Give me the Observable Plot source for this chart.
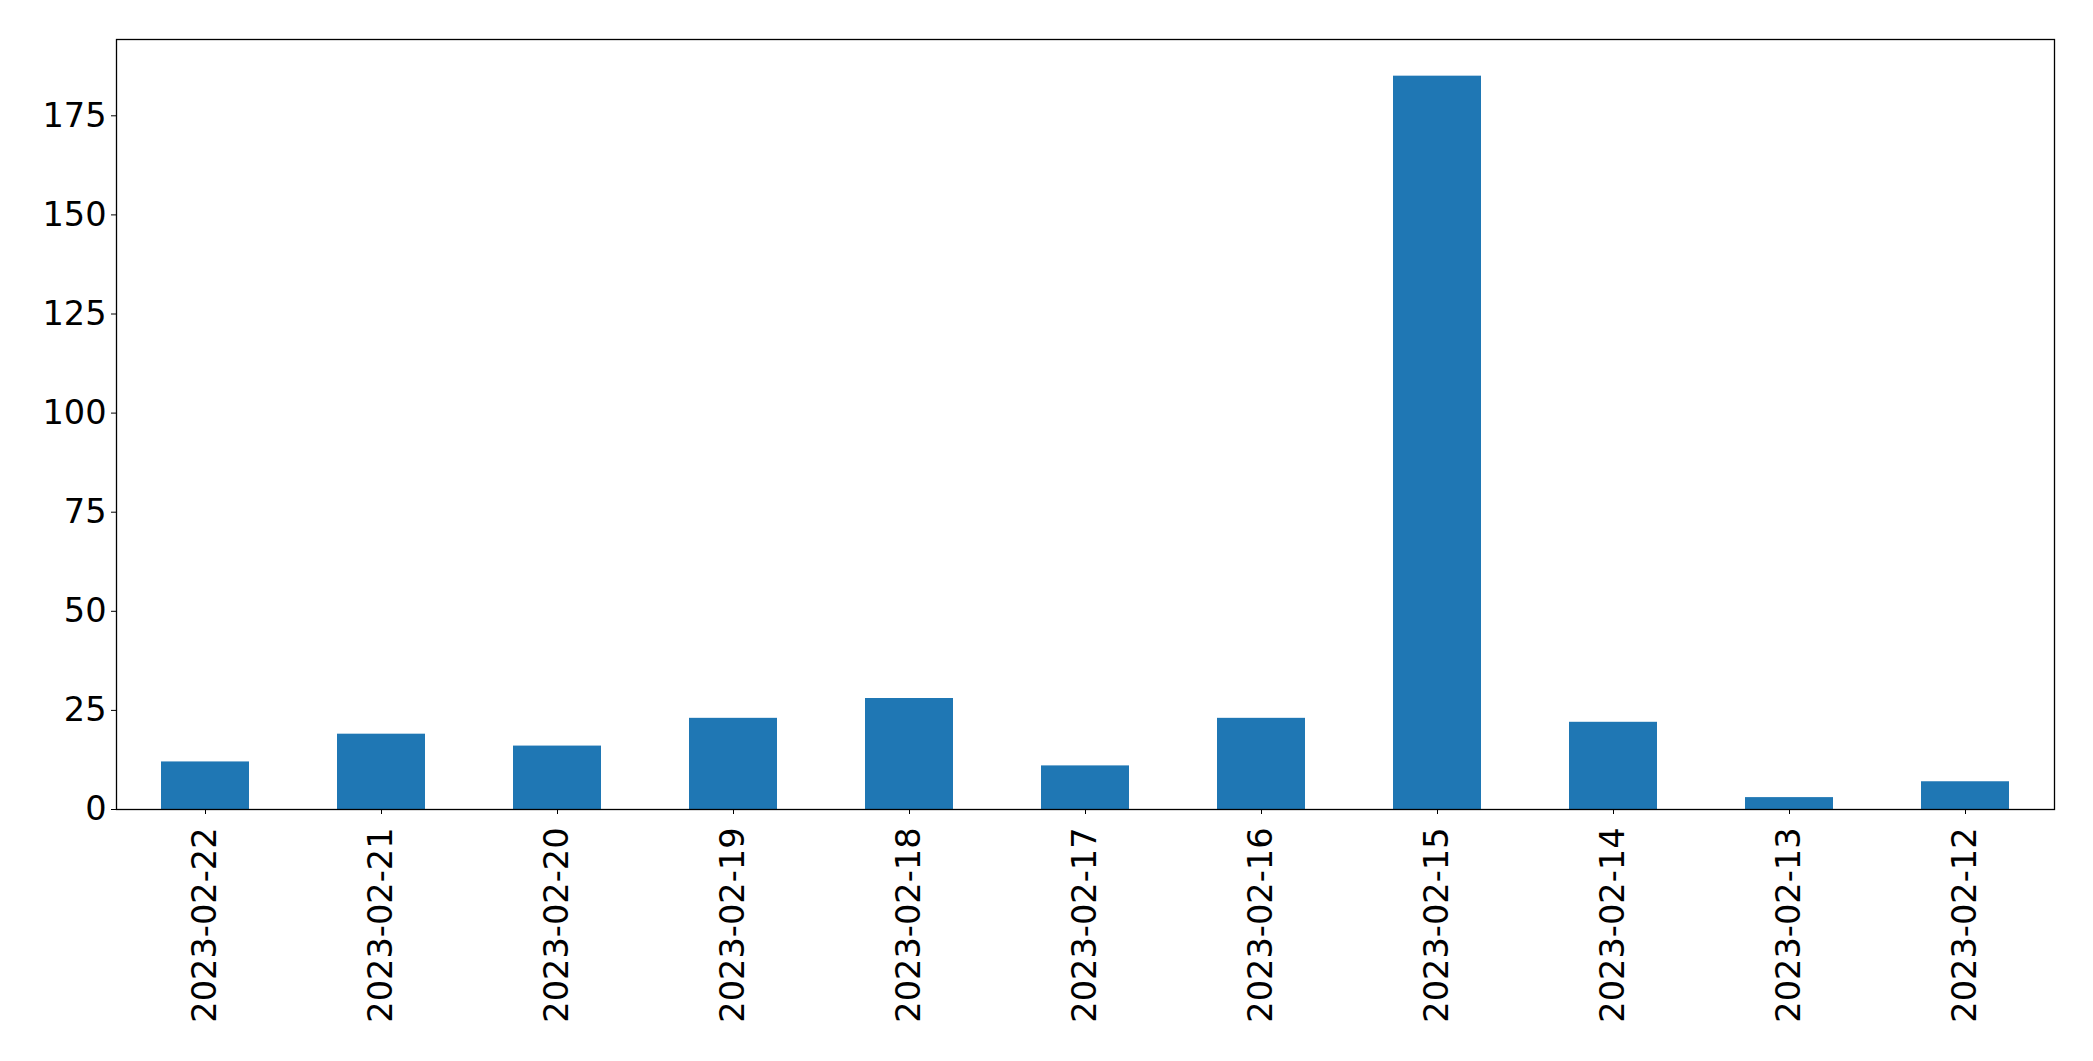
<!DOCTYPE html>
<html>
<head>
<meta charset="utf-8">
<script src="https://cdn.jsdelivr.net/npm/d3@7"></script>
<script src="https://cdn.jsdelivr.net/npm/@observablehq/plot@0.6"></script>
<style>
  html, body { margin: 0; padding: 0; background: #fff; }
  svg { display: block; }
</style>
</head>
<body>
<div id="chart"></div>
<script>
const dates = ["2023-02-22","2023-02-21","2023-02-20","2023-02-19","2023-02-18","2023-02-17","2023-02-16","2023-02-15","2023-02-14","2023-02-13","2023-02-12"];
const counts = [12, 19, 16, 23, 28, 11, 23, 185, 22, 3, 7];
const yTicks = [0, 25, 50, 75, 100, 125, 150, 175];

const data = dates.map((d, i) => ({date: d, value: counts[i]}));

const chart = Plot.plot({
  width: 2093,
  height: 1061,
  marginLeft: 116,
  marginRight: 39,
  marginTop: 39,
  marginBottom: 252,
  style: {fontFamily: "DejaVu Sans", fontSize: "33.6px", color: "#000", background: "#fff"},
  x: {domain: dates, paddingInner: 0.5, paddingOuter: 0.25, label: null},
  y: {domain: [0, 185 * 1.05], label: null},
  marks: [
    Plot.barY(data, {x: "date", y: "value", fill: "#1f77b4"}),
    Plot.axisY({ticks: yTicks, tickSize: 5, tickPadding: 5, stroke: "#000", strokeWidth: 1, label: null, fontSize: 33.6}),
    Plot.axisX({tickSize: 5, tickPadding: 13, tickRotate: -90, stroke: "#000", label: null, fontSize: 33.6}),
    Plot.frame({stroke: "#000", strokeWidth: 1.3})
  ]
});
document.getElementById("chart").appendChild(chart);
</script>
</body>
</html>
